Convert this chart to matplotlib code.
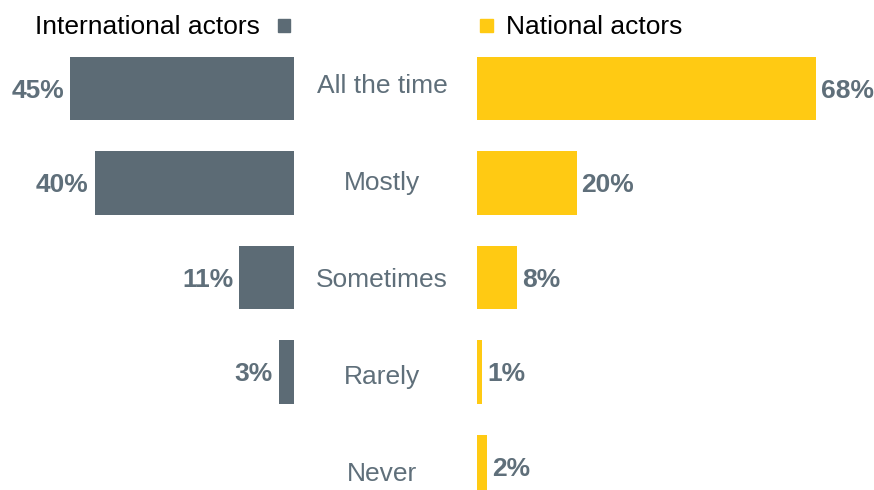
import matplotlib.pyplot as plt
import numpy as np

plt.rcParams['font.family'] = ['Liberation Sans', 'DejaVu Sans']

# data
categories = ['All the time', 'Mostly', 'Sometimes', 'Rarely', 'Never']
international = [45, 40, 11, 3, 0]
national = [68, 20, 8, 1, 2]

grey = '#5c6b75'
yellow = '#ffca13'
text_grey = '#5f6f7a'

W, H = 874, 490
fig = plt.figure(figsize=(W / 100, H / 100), dpi=100)

px_per_pct = 4.98
row_h = 94.5
y0 = 88.5  # centre of first row, px from top
ylim = ((H - y0) / row_h, -y0 / row_h)
pt = 72 / 100  # points per pixel

# left panel: international actors (grows leftwards)
ax_l = fig.add_axes([0, 0, 294 / W, 1])
# right panel: national actors
ax_r = fig.add_axes([477 / W, 0, (W - 477) / W, 1])

ys = np.arange(len(categories))
ax_l.barh(ys, international, height=0.667, color=grey)
ax_l.set_xlim(294 / px_per_pct, 0)
ax_r.barh(ys, national, height=0.667, color=yellow)
ax_r.set_xlim(0, (W - 477) / px_per_pct)

for ax in (ax_l, ax_r):
    ax.set_ylim(*ylim)
    ax.axis('off')

for y, v in zip(ys, international):
    if v > 0:
        ax_l.annotate('%d%%' % v, xy=(v, y), xytext=(-6 * pt, -2 * pt), textcoords='offset points',
                      ha='right', va='center', fontsize=19, fontweight='bold', color=text_grey)
for y, v in zip(ys, national):
    ax_r.annotate('%d%%' % v, xy=(v, y), xytext=(5 * pt, -2 * pt), textcoords='offset points',
                  ha='left', va='center', fontsize=19, fontweight='bold', color=text_grey)

# category labels in the middle gap
for i, c in enumerate(categories):
    ypx = 86 + 97 * i
    fig.text(382 / W, 1 - ypx / H, c, ha='center', va='center', fontsize=19, color=text_grey)

# legend
fig.text(260 / W, 1 - 27 / H, 'International actors', ha='right', va='center', fontsize=19, color='black')
fig.patches.append(plt.Rectangle((278 / W, 1 - 32 / H), 12 / W, 13 / H, transform=fig.transFigure,
                                 color=grey, figure=fig))
fig.patches.append(plt.Rectangle((480 / W, 1 - 32 / H), 13 / W, 13 / H, transform=fig.transFigure,
                                 color=yellow, figure=fig))
fig.text(506 / W, 1 - 27 / H, 'National actors', ha='left', va='center', fontsize=19, color='black')

fig.savefig('out.png', dpi=100)
